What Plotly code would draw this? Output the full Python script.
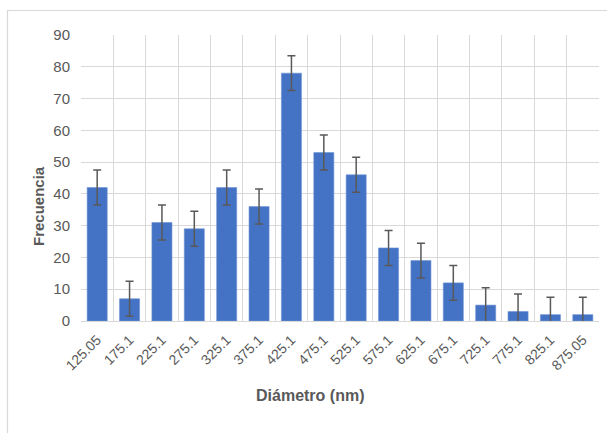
import plotly.graph_objects as go

categories = ["125.05", "175.1", "225.1", "275.1", "325.1", "375.1", "425.1", "475.1",
              "525.1", "575.1", "625.1", "675.1", "725.1", "775.1", "825.1", "875.05"]
frecuencia = [42, 7, 31, 29, 42, 36, 78, 53, 46, 23, 19, 12, 5, 3, 2, 2]
error = [5.5] * 16

W, H = 607, 433
ml, mr, mt, mb = 81, 8, 35, 112
pw, ph = W - ml - mr, H - mt - mb

def px_x(p):
    return (p - ml) / pw

def px_y(p):
    return (H - mb - p) / ph

fig = go.Figure()
fig.add_trace(go.Bar(
    x=categories, y=frecuencia,
    marker=dict(color="#4472C4", line=dict(color="#6f93d4", width=0.6)),
    error_y=dict(type="data", array=error, symmetric=True,
                 color="#595959", thickness=1.5, width=4),
))

grid = "#d9d9d9"
fig.update_layout(
    width=W, height=H,
    margin=dict(l=ml, r=mr, t=mt, b=mb),
    paper_bgcolor="white", plot_bgcolor="white",
    bargap=0.38,
    showlegend=False,
    font=dict(family="Liberation Sans, Arial, sans-serif", color="#595959", size=14),
    xaxis=dict(
        type="category", tickson="boundaries", showgrid=True, gridcolor=grid, gridwidth=1.3,
        tickangle=-45, ticks="", showline=True, linecolor=grid, linewidth=1.3,
        automargin=False, ticklabelstandoff=4,
        tickfont=dict(size=14, color="#595959"),
    ),
    yaxis=dict(
        range=[0, 90], dtick=10, showgrid=True, gridcolor=grid, gridwidth=1.3,
        zeroline=False, ticks="", showline=False, automargin=False,
        ticklabelstandoff=10,
        tickfont=dict(size=15, color="#595959"),
    ),
    annotations=[
        dict(text="<b>Diámetro (nm)</b>", xref="paper", yref="paper",
             x=px_x(310), y=px_y(395), xanchor="center", yanchor="middle",
             showarrow=False, font=dict(size=16, color="#595959")),
        dict(text="<b>Frecuencia</b>", xref="paper", yref="paper",
             x=px_x(38), y=px_y(206), xanchor="center", yanchor="middle",
             textangle=-90, showarrow=False, font=dict(size=15, color="#595959")),
    ],
    shapes=[
        dict(type="line", xref="paper", yref="paper",
             x0=px_x(7), x1=px_x(610), y0=px_y(10.5), y1=px_y(10.5),
             line=dict(color="#d9d9d9", width=1.2)),
        dict(type="line", xref="paper", yref="paper",
             x0=px_x(7.5), x1=px_x(7.5), y0=px_y(10.5), y1=px_y(440),
             line=dict(color="#d9d9d9", width=1.2)),
    ],
)

fig.write_html("out.html", config={"displayModeBar": False},
               post_script="document.body.style.margin='0';document.body.style.overflow='hidden';")
